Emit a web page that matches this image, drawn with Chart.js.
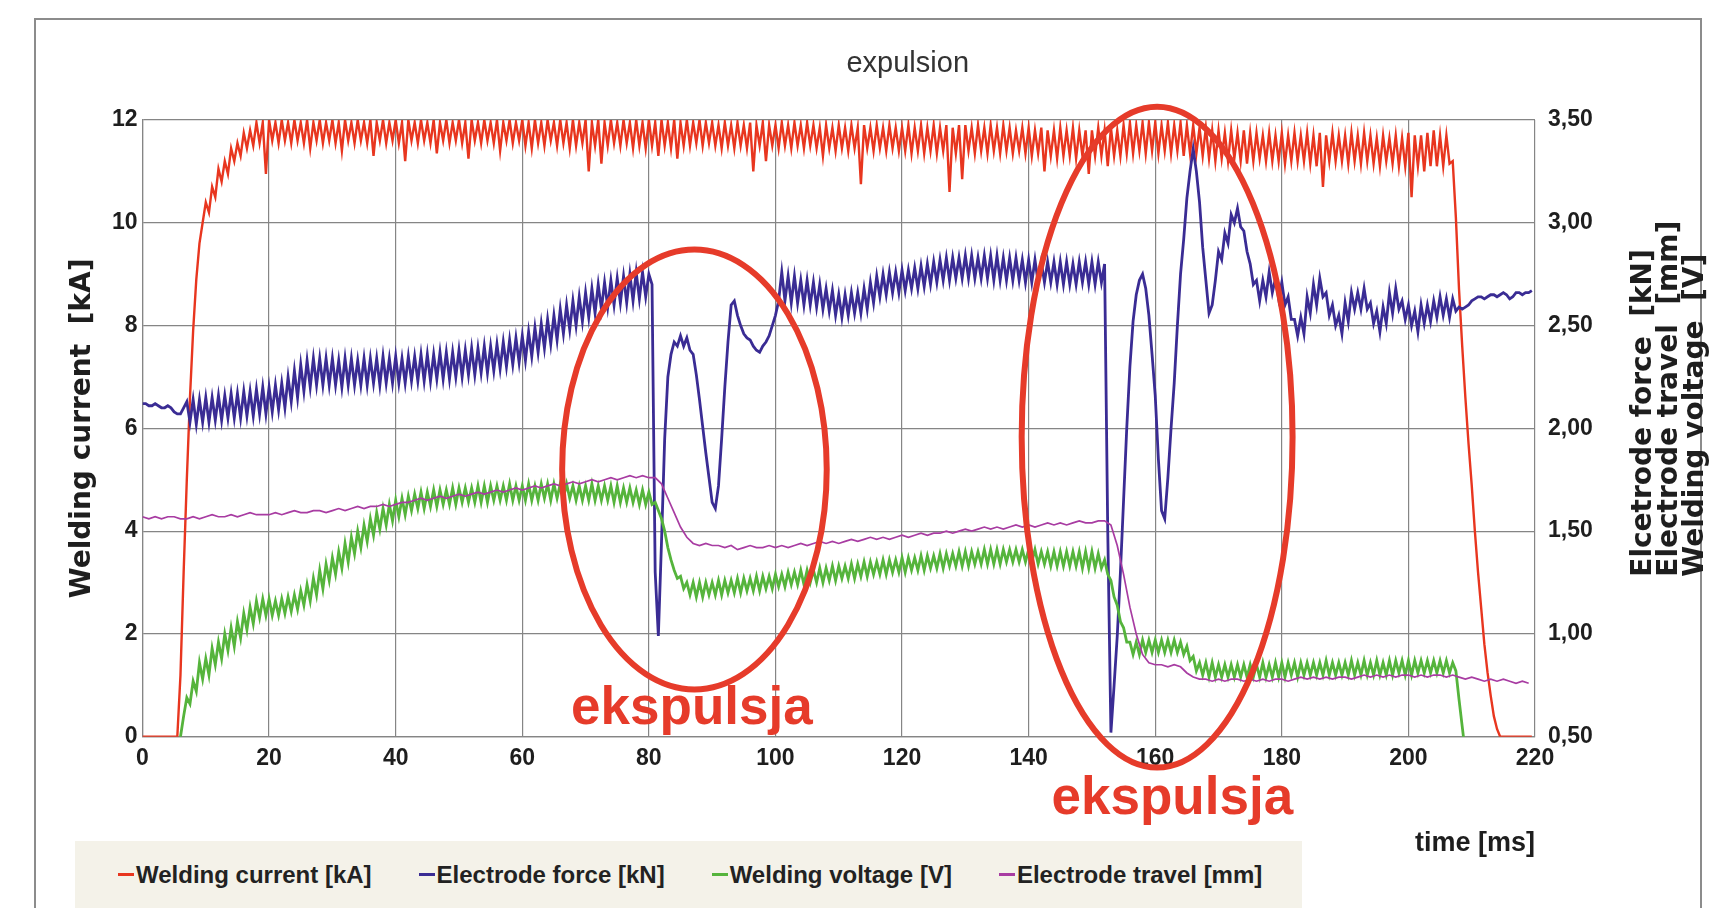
<!DOCTYPE html>
<html>
<head>
<meta charset="utf-8">
<title>expulsion</title>
<script src="https://cdn.jsdelivr.net/npm/chart.js@4.4.1/dist/chart.umd.min.js"></script>
<style>
  html, body { margin: 0; padding: 0; background: #fff; overflow: hidden; }
  #frame { position: absolute; left: 34px; top: 18px; width: 1668px; height: 960px; border: 2px solid #8c8c8c; box-sizing: border-box; }
  #chart { position: absolute; left: 0; top: 0; }
  #legend { position: absolute; left: 75px; top: 841px; width: 1227px; height: 67px; background: #f4f2e9;
            display: flex; align-items: center; gap: 47px; padding-left: 43px; box-sizing: border-box;
            font: bold 24px "Liberation Sans", Arial, sans-serif; color: #222; }
  .item { display: flex; align-items: center; white-space: nowrap; }
  .mark { display: inline-block; width: 16px; height: 3px; margin-right: 2px; }
</style>
</head>
<body>
<div id="frame"></div>
<canvas id="chart" width="1719" height="908"></canvas>
<div id="legend"></div>
<script>
// current, force and voltage: one sample every 0.5 ms (0 .. 219.5 ms)
const current = [
  0, 0, 0, 0, 0, 0, 0, 0, 0, 0,
  0, 0, 1.2, 3.2, 5.0, 6.6, 7.9, 8.9, 9.6, 10.0,
  10.4, 10.2, 10.7, 10.5, 11.05, 10.8, 11.2, 10.95, 11.45, 11.2,
  11.55, 11.3, 11.75, 11.45, 11.8, 11.5, 11.95, 11.55, 11.95, 10.95,
  12.0, 11.6, 11.95, 11.55, 12.0, 11.6, 11.95, 11.55, 12.0, 11.6,
  11.95, 11.55, 12.0, 11.45, 11.95, 11.6, 12.0, 11.55, 11.95, 11.6,
  12.0, 11.55, 11.95, 11.4, 12.0, 11.6, 11.95, 11.55, 12.0, 11.6,
  11.95, 11.55, 12.0, 11.3, 11.95, 11.6, 12.0, 11.55, 11.95, 11.6,
  12.0, 11.55, 11.95, 11.2, 12.0, 11.6, 11.95, 11.55, 12.0, 11.6,
  11.95, 11.55, 12.0, 11.35, 11.95, 11.6, 12.0, 11.55, 11.95, 11.6,
  12.0, 11.55, 11.95, 11.25, 12.0, 11.6, 11.95, 11.55, 12.0, 11.6,
  11.95, 11.55, 12.0, 11.4, 11.95, 11.6, 12.0, 11.55, 11.95, 11.6,
  12.0, 11.5, 11.95, 11.45, 12.0, 11.55, 11.95, 11.5, 12.0, 11.6,
  11.95, 11.5, 12.0, 11.55, 11.95, 11.45, 12.0, 11.5, 11.95, 11.55,
  12.0, 11.0, 11.95, 11.5, 12.0, 11.15, 11.95, 11.5, 12.0, 11.55,
  11.95, 11.5, 12.0, 11.55, 11.95, 11.45, 12.0, 11.5, 11.95, 11.45,
  12.0, 11.5, 11.95, 11.3, 12.0, 11.5, 11.95, 11.45, 12.0, 11.25,
  11.95, 11.5, 12.0, 11.5, 11.95, 11.55, 12.0, 11.5, 11.95, 11.55,
  11.95, 11.5, 11.9, 11.45, 11.95, 11.5, 11.9, 11.45, 11.95, 11.5,
  11.9, 11.45, 11.95, 11.0, 11.9, 11.5, 11.95, 11.2, 11.9, 11.5,
  11.9, 11.45, 11.95, 11.5, 11.9, 11.45, 11.95, 11.5, 11.9, 11.45,
  11.95, 11.5, 11.9, 11.45, 11.85, 11.3, 11.9, 11.45, 11.85, 11.4,
  11.9, 11.45, 11.85, 11.4, 11.9, 11.45, 11.85, 10.75, 11.9, 11.45,
  11.85, 11.4, 11.9, 11.45, 11.85, 11.4, 11.9, 11.45, 11.85, 11.4,
  11.85, 11.4, 11.9, 11.35, 11.85, 11.4, 11.9, 11.35, 11.85, 11.4,
  11.9, 11.35, 11.85, 11.4, 11.9, 10.6, 11.85, 11.35, 11.9, 10.85,
  11.9, 11.4, 11.85, 11.35, 11.9, 11.4, 11.85, 11.35, 11.9, 11.4,
  11.85, 11.35, 11.9, 11.4, 11.85, 11.35, 11.8, 11.4, 11.85, 11.35,
  11.85, 11.3, 11.8, 11.35, 11.85, 11.0, 11.8, 11.3, 11.8, 11.25,
  11.85, 11.3, 11.8, 11.3, 11.85, 11.25, 11.8, 11.3, 11.8, 10.95,
  11.8, 11.3, 11.85, 11.3, 11.8, 11.1, 11.85, 11.3, 11.8, 11.3,
  11.9, 11.35, 11.95, 11.35, 11.9, 11.4, 11.95, 11.35, 11.95, 11.4,
  11.95, 11.35, 11.9, 11.4, 11.95, 11.35, 11.9, 11.4, 11.95, 11.3,
  11.9, 11.35, 11.9, 11.35, 11.85, 11.3, 11.85, 11.25, 11.8, 11.2,
  11.8, 11.25, 11.75, 11.2, 11.8, 11.25, 11.75, 11.2, 11.8, 11.15,
  11.75, 11.2, 11.75, 11.25, 11.7, 11.2, 11.75, 11.2, 11.7, 11.2,
  11.75, 11.15, 11.7, 11.2, 11.75, 11.2, 11.7, 11.2, 11.75, 11.15,
  11.7, 11.1, 11.75, 10.7, 11.7, 11.2, 11.75, 11.2, 11.7, 11.2,
  11.7, 11.15, 11.75, 11.2, 11.7, 11.15, 11.75, 11.2, 11.7, 11.15,
  11.65, 11.1, 11.7, 11.2, 11.65, 11.15, 11.7, 11.1, 11.65, 11.1,
  11.75, 10.5, 11.7, 11.1, 11.7, 11.0, 11.75, 11.1, 11.8, 11.1,
  11.7, 11.1, 11.7, 11.15, 11.2, 10.1, 8.7, 7.6, 6.6, 5.7,
  4.9, 4.0, 3.2, 2.5, 1.8, 1.25, 0.8, 0.4, 0.15, 0,
  0, 0, 0, 0, 0, 0, 0, 0, 0, 0
];

const force = [
  2.12, 2.12, 2.11, 2.11, 2.12, 2.11, 2.10, 2.10, 2.11, 2.10,
  2.08, 2.07, 2.07, 2.10, 2.13, 2.03, 2.14, 2.02, 2.14, 2.03,
  2.15, 2.03, 2.15, 2.04, 2.16, 2.04, 2.16, 2.05, 2.17, 2.05,
  2.17, 2.05, 2.18, 2.06, 2.18, 2.06, 2.19, 2.07, 2.20, 2.07,
  2.20, 2.08, 2.21, 2.09, 2.22, 2.10, 2.25, 2.13, 2.28, 2.15,
  2.31, 2.18, 2.33, 2.20, 2.34, 2.21, 2.34, 2.21, 2.34, 2.21,
  2.34, 2.21, 2.33, 2.20, 2.34, 2.21, 2.34, 2.21, 2.33, 2.21,
  2.34, 2.21, 2.34, 2.22, 2.34, 2.21, 2.35, 2.22, 2.34, 2.22,
  2.35, 2.22, 2.34, 2.22, 2.35, 2.23, 2.35, 2.23, 2.36, 2.23,
  2.36, 2.23, 2.36, 2.24, 2.37, 2.24, 2.37, 2.24, 2.37, 2.25,
  2.38, 2.25, 2.38, 2.26, 2.39, 2.26, 2.39, 2.27, 2.40, 2.27,
  2.40, 2.28, 2.41, 2.29, 2.42, 2.30, 2.43, 2.31, 2.44, 2.32,
  2.45, 2.33, 2.47, 2.35, 2.49, 2.37, 2.51, 2.39, 2.53, 2.41,
  2.55, 2.43, 2.58, 2.46, 2.60, 2.48, 2.62, 2.50, 2.64, 2.52,
  2.66, 2.54, 2.68, 2.56, 2.70, 2.58, 2.71, 2.59, 2.72, 2.60,
  2.73, 2.61, 2.74, 2.61, 2.75, 2.62, 2.76, 2.63, 2.76, 2.64,
  2.75, 2.70, 1.30, 0.99, 1.45, 1.95, 2.25, 2.36, 2.42, 2.40,
  2.45, 2.40, 2.44, 2.38, 2.36, 2.26, 2.14, 2.01, 1.88, 1.76,
  1.64, 1.61, 1.72, 1.95, 2.20, 2.42, 2.60, 2.62, 2.55, 2.50,
  2.46, 2.44, 2.43, 2.40, 2.38, 2.37, 2.40, 2.42, 2.45, 2.50,
  2.55, 2.62, 2.76, 2.62, 2.74, 2.61, 2.74, 2.61, 2.72, 2.60,
  2.72, 2.60, 2.71, 2.59, 2.70, 2.58, 2.68, 2.57, 2.67, 2.55,
  2.65, 2.54, 2.65, 2.55, 2.66, 2.56, 2.66, 2.56, 2.68, 2.58,
  2.71, 2.61, 2.74, 2.64, 2.75, 2.65, 2.76, 2.66, 2.76, 2.66,
  2.77, 2.67, 2.77, 2.68, 2.78, 2.68, 2.79, 2.69, 2.80, 2.70,
  2.81, 2.71, 2.82, 2.72, 2.83, 2.72, 2.83, 2.73, 2.83, 2.73,
  2.84, 2.73, 2.84, 2.73, 2.83, 2.73, 2.84, 2.73, 2.84, 2.72,
  2.84, 2.72, 2.83, 2.72, 2.83, 2.72, 2.83, 2.72, 2.82, 2.71,
  2.82, 2.71, 2.82, 2.71, 2.81, 2.71, 2.81, 2.71, 2.81, 2.70,
  2.81, 2.70, 2.81, 2.70, 2.80, 2.70, 2.81, 2.71, 2.81, 2.70,
  2.81, 2.70, 2.81, 2.71, 2.80, 1.50, 0.52, 0.75, 0.99, 1.30,
  1.65, 2.00, 2.30, 2.52, 2.65, 2.72, 2.75, 2.68, 2.55, 2.36,
  2.16, 1.85, 1.60, 1.56, 1.76, 2.00, 2.22, 2.50, 2.75, 2.92,
  3.12, 3.25, 3.36, 3.25, 3.10, 2.88, 2.72, 2.56, 2.60, 2.72,
  2.86, 2.82, 2.95, 2.90, 3.04, 3.00, 3.07, 2.98, 2.96, 2.86,
  2.80, 2.70, 2.72, 2.62, 2.72, 2.64, 2.76, 2.66, 2.73, 2.63,
  2.71, 2.60, 2.64, 2.53, 2.53, 2.45, 2.54, 2.46, 2.64, 2.56,
  2.70, 2.60, 2.73, 2.64, 2.66, 2.55, 2.60, 2.50, 2.55, 2.46,
  2.61, 2.52, 2.66, 2.58, 2.66, 2.58, 2.68, 2.58, 2.61, 2.51,
  2.57, 2.47, 2.59, 2.51, 2.66, 2.56, 2.68, 2.58, 2.62, 2.53,
  2.60, 2.50, 2.57, 2.47, 2.60, 2.51, 2.60, 2.52, 2.62, 2.54,
  2.64, 2.55, 2.63, 2.54, 2.63, 2.57, 2.59, 2.58, 2.59, 2.60,
  2.62, 2.63, 2.64, 2.64, 2.63, 2.64, 2.65, 2.65, 2.64, 2.65,
  2.66, 2.65, 2.63, 2.64, 2.66, 2.66, 2.65, 2.66, 2.66, 2.67
];

const voltage = [
  0, 0, 0, 0, 0, 0, 0, 0, 0, 0,
  0, 0, 0.50, 0.60, 0.69, 0.66, 0.77, 0.72, 0.86, 0.78,
  0.88, 0.80, 0.93, 0.85, 0.96, 0.88, 1.00, 0.92, 1.03, 0.94,
  1.06, 0.98, 1.10, 1.02, 1.13, 1.05, 1.16, 1.08, 1.17, 1.09,
  1.17, 1.09, 1.16, 1.09, 1.17, 1.10, 1.18, 1.11, 1.19, 1.12,
  1.21, 1.14, 1.24, 1.16, 1.27, 1.19, 1.31, 1.22, 1.34, 1.26,
  1.37, 1.29, 1.40, 1.32, 1.44, 1.35, 1.47, 1.39, 1.50, 1.42,
  1.53, 1.45, 1.56, 1.48, 1.59, 1.51, 1.61, 1.53, 1.63, 1.55,
  1.65, 1.57, 1.66, 1.58, 1.67, 1.60, 1.68, 1.61, 1.69, 1.61,
  1.69, 1.62, 1.70, 1.62, 1.70, 1.63, 1.70, 1.63, 1.71, 1.63,
  1.71, 1.64, 1.71, 1.64, 1.71, 1.64, 1.72, 1.64, 1.72, 1.64,
  1.72, 1.65, 1.72, 1.65, 1.72, 1.65, 1.73, 1.65, 1.72, 1.65,
  1.72, 1.65, 1.73, 1.65, 1.72, 1.65, 1.73, 1.66, 1.73, 1.65,
  1.73, 1.66, 1.73, 1.66, 1.73, 1.66, 1.72, 1.65, 1.72, 1.65,
  1.72, 1.65, 1.73, 1.65, 1.72, 1.65, 1.72, 1.65, 1.72, 1.64,
  1.72, 1.64, 1.71, 1.64, 1.71, 1.64, 1.70, 1.63, 1.70, 1.63,
  1.69, 1.63, 1.64, 1.60, 1.56, 1.50, 1.42, 1.36, 1.31, 1.27,
  1.28, 1.22, 1.25, 1.19, 1.25, 1.18, 1.25, 1.18, 1.25, 1.19,
  1.25, 1.19, 1.26, 1.19, 1.26, 1.20, 1.26, 1.20, 1.27, 1.20,
  1.27, 1.21, 1.27, 1.21, 1.28, 1.21, 1.28, 1.22, 1.28, 1.22,
  1.29, 1.23, 1.29, 1.23, 1.30, 1.24, 1.30, 1.24, 1.31, 1.24,
  1.31, 1.25, 1.31, 1.25, 1.32, 1.25, 1.32, 1.26, 1.33, 1.26,
  1.33, 1.27, 1.33, 1.27, 1.34, 1.27, 1.34, 1.28, 1.35, 1.28,
  1.35, 1.29, 1.35, 1.29, 1.36, 1.29, 1.36, 1.30, 1.36, 1.30,
  1.37, 1.30, 1.37, 1.31, 1.37, 1.31, 1.38, 1.31, 1.38, 1.32,
  1.38, 1.32, 1.39, 1.32, 1.39, 1.33, 1.39, 1.33, 1.40, 1.33,
  1.40, 1.33, 1.40, 1.34, 1.40, 1.34, 1.41, 1.34, 1.41, 1.34,
  1.41, 1.34, 1.41, 1.35, 1.41, 1.35, 1.41, 1.35, 1.41, 1.35,
  1.41, 1.35, 1.41, 1.34, 1.40, 1.34, 1.40, 1.33, 1.40, 1.33,
  1.40, 1.33, 1.40, 1.33, 1.40, 1.33, 1.40, 1.32, 1.40, 1.32,
  1.40, 1.32, 1.39, 1.32, 1.36, 1.29, 1.26, 1.18, 1.14, 1.06,
  1.03, 0.96, 0.96, 0.90, 0.96, 0.90, 0.97, 0.91, 0.97, 0.91,
  0.97, 0.91, 0.97, 0.91, 0.97, 0.91, 0.97, 0.91, 0.96, 0.90,
  0.94, 0.87, 0.89, 0.82, 0.86, 0.80, 0.86, 0.79, 0.86, 0.79,
  0.85, 0.79, 0.85, 0.79, 0.85, 0.79, 0.85, 0.79, 0.85, 0.79,
  0.85, 0.79, 0.85, 0.79, 0.86, 0.79, 0.85, 0.79, 0.86, 0.79,
  0.86, 0.79, 0.86, 0.80, 0.86, 0.79, 0.86, 0.80, 0.86, 0.80,
  0.86, 0.80, 0.86, 0.80, 0.87, 0.80, 0.86, 0.80, 0.86, 0.80,
  0.86, 0.80, 0.87, 0.80, 0.86, 0.80, 0.87, 0.80, 0.86, 0.80,
  0.87, 0.80, 0.86, 0.80, 0.87, 0.80, 0.87, 0.81, 0.87, 0.80,
  0.87, 0.80, 0.87, 0.81, 0.87, 0.81, 0.87, 0.81, 0.87, 0.81,
  0.87, 0.81, 0.87, 0.81, 0.86, 0.82, 0.68, 0.55, 0.42, 0.20,
  0, 0, 0, 0, 0, 0, 0, 0, 0, 0,
  0, 0, 0, 0, 0, 0, 0, 0, 0, 0
];

// travel is smooth: one sample every 1 ms (0 .. 219 ms)
const travel = [
  1.57, 1.56, 1.57, 1.56, 1.57, 1.57, 1.56, 1.56, 1.57, 1.56,
  1.57, 1.58, 1.57, 1.57, 1.58, 1.57, 1.58, 1.59, 1.58, 1.58,
  1.58, 1.59, 1.58, 1.59, 1.60, 1.59, 1.59, 1.60, 1.60, 1.59,
  1.60, 1.61, 1.60, 1.61, 1.62, 1.61, 1.62, 1.62, 1.63, 1.62,
  1.63, 1.64, 1.64, 1.65, 1.66, 1.65, 1.66, 1.67, 1.66, 1.67,
  1.68, 1.67, 1.68, 1.69, 1.68, 1.69, 1.70, 1.69, 1.70, 1.71,
  1.70, 1.71, 1.72, 1.71, 1.72, 1.73, 1.72, 1.73, 1.74, 1.73,
  1.74, 1.75, 1.74, 1.75, 1.76, 1.75, 1.76, 1.77, 1.76, 1.77,
  1.76, 1.76, 1.73, 1.66, 1.59, 1.52, 1.47, 1.44, 1.43, 1.44,
  1.43, 1.43, 1.42, 1.43, 1.41, 1.42, 1.43, 1.42, 1.42, 1.43,
  1.42, 1.43, 1.42, 1.43, 1.44, 1.43, 1.44, 1.45, 1.44, 1.45,
  1.44, 1.45, 1.46, 1.45, 1.46, 1.47, 1.46, 1.47, 1.46, 1.47,
  1.48, 1.47, 1.48, 1.49, 1.48, 1.49, 1.49, 1.50, 1.49, 1.50,
  1.51, 1.50, 1.51, 1.52, 1.51, 1.52, 1.51, 1.52, 1.53, 1.52,
  1.53, 1.52, 1.53, 1.54, 1.53, 1.54, 1.53, 1.54, 1.55, 1.54,
  1.54, 1.55, 1.55, 1.53, 1.43, 1.29, 1.13, 1.00, 0.90, 0.86,
  0.85, 0.85, 0.84, 0.85, 0.84, 0.81, 0.79, 0.78, 0.78, 0.77,
  0.78, 0.77, 0.78, 0.78, 0.77, 0.78, 0.77, 0.78, 0.77, 0.78,
  0.78, 0.77, 0.78, 0.79, 0.78, 0.79, 0.78, 0.79, 0.78, 0.79,
  0.79, 0.78, 0.79, 0.80, 0.79, 0.80, 0.79, 0.80, 0.79, 0.80,
  0.80, 0.79, 0.80, 0.79, 0.80, 0.80, 0.79, 0.80, 0.79, 0.78,
  0.79, 0.78, 0.77, 0.78, 0.77, 0.78, 0.77, 0.76, 0.77, 0.76
];

const fastStep = 0.5;   // ms between samples of current, force, voltage
const slowStep = 1;     // ms between samples of travel

const xTicks = { min: 0, max: 220, step: 20 };
const leftTicks = { min: 0, max: 12, step: 2 };
const rightTicks = { min: 0.5, max: 3.5, step: 0.5 };

// the two hand drawn rings and their captions, in axis units (time ms, kA)
const ringT = [87.2, 160.3];
const ringKA = [5.2, 5.83];
const ringHalfT = [20.9, 21.4];
const ringHalfKA = [4.28, 6.43];
const noteT = [86.8, 162.7];
const noteKA = [0.25, -1.5];
const noteText = 'ekspulsja';

const rightTitle = ['Elcetrode force  [kN]', 'Electrode travel  [mm]', 'Welding voltage  [V]'];

const gridColor = '#858585';
const textColor = '#1e1e1e';
const noteColor = '#e63b2a';
const tickFont = { family: '"Liberation Sans", Arial, sans-serif', size: 23, weight: 'bold' };
const axisTitleFont = '"DejaVu Sans", sans-serif';

function points(values, step) {
  return values.map((v, i) => ({ x: i * step, y: v }));
}

const decor = {
  id: 'decor',
  afterDatasetsDraw(chart) {
    const { ctx, scales: { x, y } } = chart;
    ctx.save();
    ctx.strokeStyle = noteColor;
    ctx.lineWidth = 6;
    ringT.forEach((t, i) => {
      const cx = x.getPixelForValue(t);
      const cy = y.getPixelForValue(ringKA[i]);
      const rx = x.getPixelForValue(t + ringHalfT[i]) - cx;
      const ry = cy - y.getPixelForValue(ringKA[i] + ringHalfKA[i]);
      ctx.beginPath();
      ctx.ellipse(cx, cy, rx, ry, 0, 0, Math.PI * 2);
      ctx.stroke();
    });
    ctx.fillStyle = noteColor;
    ctx.font = 'bold 53px "Liberation Sans", Arial, sans-serif';
    ctx.textAlign = 'center';
    ctx.textBaseline = 'alphabetic';
    noteT.forEach((t, i) => {
      ctx.fillText(noteText, x.getPixelForValue(t), y.getPixelForValue(noteKA[i]));
    });
    ctx.restore();
  },
  afterDraw(chart) {
    const { ctx, chartArea: a } = chart;
    ctx.save();
    ctx.fillStyle = '#333';
    ctx.font = '29px "Liberation Sans", Arial, sans-serif';
    ctx.textAlign = 'center';
    ctx.textBaseline = 'middle';
    ctx.fillText('expulsion', (a.left + a.right) / 2 + 69, a.top - 56);

    // right axis title reads bottom to top, like the left one
    ctx.fillStyle = textColor;
    ctx.font = 'bold 28px ' + axisTitleFont;
    ctx.textAlign = 'left';
    rightTitle.forEach((line, i) => {
      ctx.save();
      ctx.translate(a.right + 109 + i * 26, a.bottom - 160);
      ctx.rotate(-Math.PI / 2);
      ctx.fillText(line, 0, 0);
      ctx.restore();
    });
    ctx.restore();
  }
};

const chart = new Chart(document.getElementById('chart'), {
  type: 'line',
  data: {
    datasets: [
      { label: 'Welding current [kA]', data: points(current, fastStep), yAxisID: 'y',
        borderColor: '#e8361f', backgroundColor: '#e8361f', borderWidth: 2.4, order: 4 },
      { label: 'Electrode force [kN]', data: points(force, fastStep), yAxisID: 'y1',
        borderColor: '#3a2c94', backgroundColor: '#3a2c94', borderWidth: 2.8, order: 3 },
      { label: 'Welding voltage [V]', data: points(voltage, fastStep), yAxisID: 'y1',
        borderColor: '#55b43c', backgroundColor: '#55b43c', borderWidth: 2.8, order: 2 },
      { label: 'Electrode travel [mm]', data: points(travel, slowStep), yAxisID: 'y1',
        borderColor: '#a83ca2', backgroundColor: '#a83ca2', borderWidth: 1.7, order: 1 }
    ]
  },
  options: {
    responsive: false,
    animation: false,
    layout: { padding: { top: 120, left: 0, right: 0, bottom: 0 } },
    elements: { point: { radius: 0 }, line: { tension: 0 } },
    plugins: { legend: { display: false }, tooltip: { enabled: false } },
    scales: {
      x: {
        type: 'linear', min: xTicks.min, max: xTicks.max,
        ticks: { stepSize: xTicks.step, padding: 8, color: textColor, font: tickFont },
        grid: { color: gridColor, lineWidth: 1.2, drawTicks: false },
        border: { color: gridColor, width: 1.2 },
        title: { display: true, text: 'time [ms]', align: 'end', color: textColor,
                 font: { family: '"Liberation Sans", Arial, sans-serif', size: 27, weight: 'bold' },
                 padding: { top: 0, bottom: 48 } },
        afterFit(scale) { scale.height = 171.3; }
      },
      y: {
        position: 'left', min: leftTicks.min, max: leftTicks.max,
        ticks: { stepSize: leftTicks.step, padding: 5, color: textColor, font: tickFont },
        grid: { color: gridColor, lineWidth: 1.2, drawTicks: false },
        border: { color: gridColor, width: 1.2 },
        title: { display: true, text: 'Welding current  [kA]', color: textColor,
                 font: { family: axisTitleFont, size: 28, weight: 'bold' }, padding: { top: 66, bottom: 0 } },
        afterFit(scale) { scale.width = 142.5; }
      },
      y1: {
        position: 'right', min: rightTicks.min, max: rightTicks.max,
        ticks: { stepSize: rightTicks.step, padding: 13, color: textColor, font: tickFont,
                 callback: v => v.toFixed(2).replace('.', ',') },
        grid: { display: false, drawTicks: false },
        border: { display: false },
        afterFit(scale) { scale.width = 184; }
      }
    }
  },
  plugins: [decor]
});

// legend built from the datasets, laid out like the original beige strip
const legendBox = document.getElementById('legend');
chart.data.datasets.forEach(ds => {
  const item = document.createElement('span');
  item.className = 'item';
  const mark = document.createElement('span');
  mark.className = 'mark';
  mark.style.background = ds.borderColor;
  item.append(mark, ds.label);
  legendBox.append(item);
});
</script>
</body>
</html>
